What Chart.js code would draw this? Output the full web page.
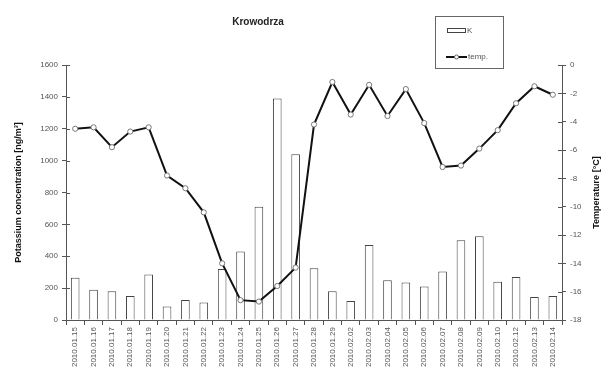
<!DOCTYPE html>
<html>
<head>
<meta charset="utf-8">
<script src="https://cdn.jsdelivr.net/npm/chart.js@4/dist/chart.umd.min.js"></script>
<style>
  html, body { margin: 0; padding: 0; background: #fff; }
  #wrap { width: 607px; height: 374px; position: relative; }
</style>
</head>
<body>
<div id="wrap"><canvas id="c" width="607" height="374"></canvas></div>
<script>
// Sampling days (Krowodrza station)
const days = [
  "2010.01.15","2010.01.16","2010.01.17","2010.01.18","2010.01.19","2010.01.20",
  "2010.01.21","2010.01.22","2010.01.23","2010.01.24","2010.01.25","2010.01.26",
  "2010.01.27","2010.01.28","2010.01.29","2010.02.02","2010.02.03","2010.02.04",
  "2010.02.05","2010.02.06","2010.02.07","2010.02.08","2010.02.09","2010.02.10",
  "2010.02.12","2010.02.13","2010.02.14"
];

// Potassium concentration, ng/m3
const potassium = [
  265, 190, 180, 150, 285, 85, 125, 110, 320, 430, 710, 1390,
  1040, 325, 180, 120, 470, 250, 235, 210, 305, 500, 525, 240,
  270, 145, 150
];

// Daily mean temperature, °C
const temperature = [
  -4.5, -4.4, -5.8, -4.7, -4.4, -7.8, -8.7, -10.4, -14.0, -16.6, -16.7, -15.6,
  -14.3, -4.2, -1.2, -3.5, -1.4, -3.6, -1.7, -4.1, -7.2, -7.1, -5.9, -4.6,
  -2.7, -1.5, -2.1
];

const leftTicks = [0, 200, 400, 600, 800, 1000, 1200, 1400, 1600];
const rightTicks = [0, -2, -4, -6, -8, -10, -12, -14, -16, -18];

const FONT = "'Liberation Sans', Arial, sans-serif";
const AXIS = '#555';
const TEXT = '#555';

// Title, axis titles, inner tick marks and the boxed legend
const decorations = {
  id: 'decorations',
  afterDraw(chart) {
    const ctx = chart.ctx;
    const area = chart.chartArea;
    ctx.save();

    // inner half of the value-axis tick marks
    ctx.strokeStyle = AXIS;
    ctx.lineWidth = 1;
    const yK = chart.scales.yK, yT = chart.scales.yT;
    ctx.beginPath();
    leftTicks.forEach(v => {
      const y = Math.round(yK.getPixelForValue(v)) + 0.5;
      ctx.moveTo(area.left, y); ctx.lineTo(area.left + 4, y);
    });
    rightTicks.forEach(v => {
      const y = Math.round(yT.getPixelForValue(v)) + 0.5;
      ctx.moveTo(area.right - 4, y); ctx.lineTo(area.right, y);
    });
    ctx.stroke();

    // chart title
    ctx.fillStyle = '#222';
    ctx.font = 'bold 10px ' + FONT;
    ctx.textAlign = 'center';
    ctx.textBaseline = 'middle';
    ctx.fillText('Krowodrza', 258, 22);

    // axis titles, both reading bottom to top
    const midY = (area.top + area.bottom) / 2;
    ctx.font = 'bold 9px ' + FONT;
    ctx.fillStyle = '#111';
    ctx.save();
    ctx.translate(19, midY);
    ctx.rotate(-Math.PI / 2);
    ctx.fillText('Potassium concentration [ng/m³]', 0, 0);
    ctx.restore();
    ctx.save();
    ctx.translate(597, midY);
    ctx.rotate(-Math.PI / 2);
    ctx.fillText('Temperature [°C]', 0, 0);
    ctx.restore();

    // legend frame
    ctx.strokeStyle = '#666';
    ctx.lineWidth = 1;
    ctx.fillStyle = '#fff';
    ctx.fillRect(435.5, 16.5, 68, 52);
    ctx.strokeRect(435.5, 16.5, 68, 52);

    // K swatch
    ctx.strokeStyle = '#444';
    ctx.strokeRect(447.5, 28.5, 18, 4);
    // temp swatch
    ctx.strokeStyle = '#111';
    ctx.lineWidth = 2;
    ctx.beginPath();
    ctx.moveTo(446, 57);
    ctx.lineTo(467, 57);
    ctx.stroke();
    ctx.lineWidth = 1;
    ctx.strokeStyle = '#666';
    ctx.fillStyle = '#fff';
    ctx.beginPath();
    ctx.arc(456.5, 57, 2, 0, Math.PI * 2);
    ctx.fill();
    ctx.stroke();

    ctx.fillStyle = TEXT;
    ctx.font = '8px ' + FONT;
    ctx.textAlign = 'left';
    ctx.fillText('K', 467, 31);
    ctx.fillText('temp.', 468, 57);
    ctx.restore();
  }
};

new Chart(document.getElementById('c'), {
  data: {
    labels: days,
    datasets: [
      {
        type: 'line',
        label: 'temp.',
        data: temperature,
        yAxisID: 'yT',
        borderColor: '#111',
        borderWidth: 2,
        pointRadius: 2.6,
        pointBackgroundColor: '#fff',
        pointBorderColor: '#777',
        pointBorderWidth: 1,
        tension: 0,
        order: 0
      },
      {
        type: 'bar',
        label: 'K',
        data: potassium,
        yAxisID: 'yK',
        backgroundColor: '#fff',
        borderColor: '#444',
        borderWidth: 1,
        barPercentage: 0.47,
        categoryPercentage: 1,
        order: 1
      }
    ]
  },
  options: {
    responsive: false,
    animation: false,
    devicePixelRatio: 1,
    layout: { padding: { top: 65, left: 0, right: 0, bottom: 0 } },
    plugins: {
      legend: { display: false },
      title: { display: false },
      tooltip: { enabled: false }
    },
    scales: {
      x: {
        offset: true,
        grid: { display: true, drawOnChartArea: false, offset: true, color: AXIS, tickLength: 5 },
        border: { color: AXIS, width: 1 },
        ticks: {
          color: TEXT, font: { family: FONT, size: 8 },
          maxRotation: 90, minRotation: 90, autoSkip: false, padding: 2
        },
        afterFit(s) { s.height = 54; }
      },
      yK: {
        position: 'left',
        min: 0, max: 1600,
        afterBuildTicks(s) { s.ticks = leftTicks.map(v => ({ value: v })); },
        grid: { drawOnChartArea: false, color: AXIS, tickLength: 4 },
        border: { color: AXIS, width: 1 },
        ticks: {
          color: TEXT, font: { family: FONT, size: 8 }, padding: 4,
          callback: v => String(v)
        },
        afterFit(s) { s.width = 66; }
      },
      yT: {
        position: 'right',
        min: -18, max: 0,
        afterBuildTicks(s) { s.ticks = rightTicks.map(v => ({ value: v })); },
        grid: { drawOnChartArea: false, color: AXIS, tickLength: 4 },
        border: { color: AXIS, width: 1 },
        ticks: {
          color: TEXT, font: { family: FONT, size: 8 }, padding: 4,
          callback: v => String(v)
        },
        afterFit(s) { s.width = 45; }
      }
    }
  },
  plugins: [decorations]
});
</script>
</body>
</html>
